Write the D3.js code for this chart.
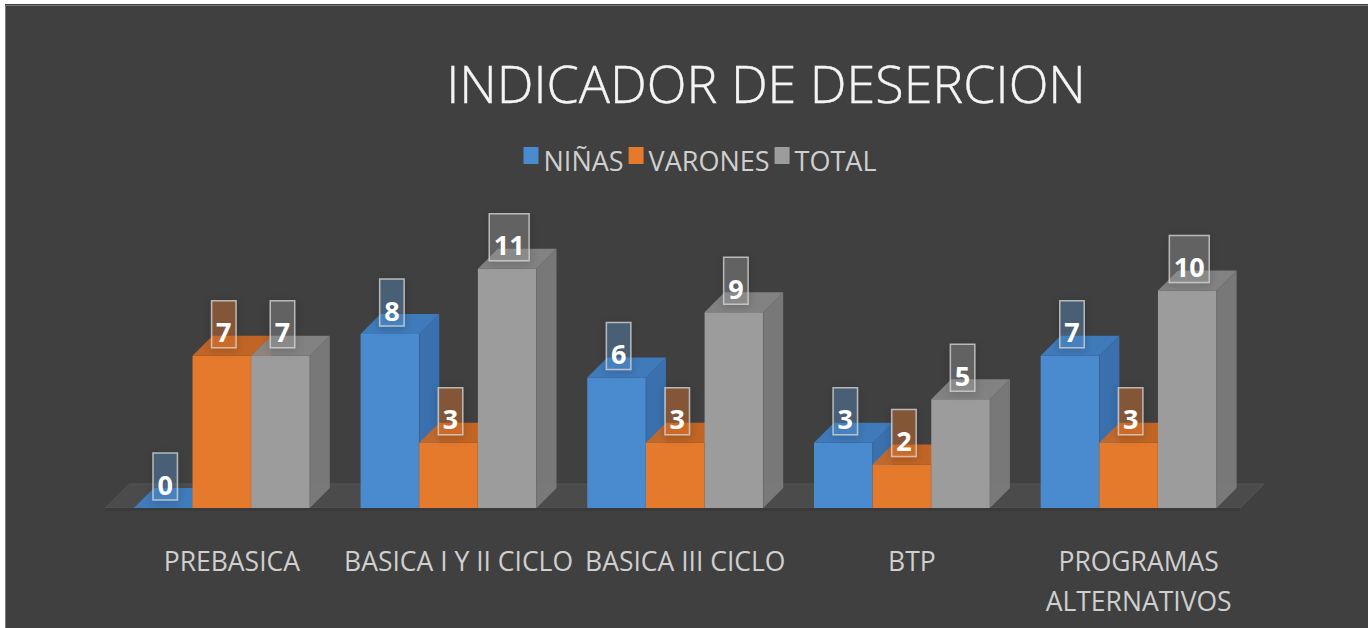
<!DOCTYPE html>
<html>
<head>
<meta charset="utf-8">
<script src="https://cdn.jsdelivr.net/npm/d3@7"></script>
<style>
  html, body { margin: 0; padding: 0; background: #ffffff; }
  svg { display: block; }
</style>
</head>
<body>
<svg id="chart" width="1371" height="628"></svg>
<script>
// ---------- data ----------
const title = "INDICADOR DE DESERCION";
const categories = ["PREBASICA", "BASICA I Y II CICLO", "BASICA III CICLO", "BTP", "PROGRAMAS ALTERNATIVOS"];
const seriesNames = ["NIÑAS", "VARONES", "TOTAL"];
const ninas   = [0, 8, 6, 3, 7];
const varones = [7, 3, 3, 2, 3];
const total   = [7, 11, 9, 5, 10];
const seriesValues = [ninas, varones, total];
const yDomain = [0, 12];

// ---------- styles ----------
const W = 1371, H = 628;
const bg = "#404040";
const seriesFront = ["#4a8bd0", "#e5792c", "#9c9c9c"];
const seriesSide  = ["#3a73b4", "#bf5f1e", "#7b7b7b"];
const seriesTop   = ["#3f7fc4", "#cc6823", "#888888"];
const seriesLabelFill = ["rgba(91,155,213,0.33)", "rgba(237,125,49,0.36)", "rgba(165,165,165,0.33)"];
const textColor = "#cfcfcf";
const depthX = 20, depthY = -20;
const fontFam = "'Open Sans', 'Noto Sans', sans-serif";
const catFont = 26.5;

const svg = d3.select("#chart");

// background
svg.append("rect").attr("x", 5).attr("y", 4).attr("width", 1363).attr("height", H - 4).attr("fill", bg);
svg.append("line").attr("x1", 5).attr("x2", 1368).attr("y1", 5.5).attr("y2", 5.5).attr("stroke", "#7a7a7a").attr("stroke-width", 1);
svg.append("line").attr("x1", 5.5).attr("x2", 5.5).attr("y1", 5).attr("y2", H).attr("stroke", "#7a7a7a").attr("stroke-width", 1);

const defs = svg.append("defs");
const f = defs.append("filter").attr("id", "shadow").attr("x", "-50%").attr("y", "-50%").attr("width", "200%").attr("height", "200%");
f.append("feDropShadow").attr("dx", 0).attr("dy", 2).attr("stdDeviation", 4).attr("flood-color", "#000").attr("flood-opacity", 0.35);

// ---------- scales ----------
const x = d3.scaleBand().domain(categories).range([108.5, 1242]).paddingInner(0.224).paddingOuter(0.112);
const xs = d3.scaleBand().domain(seriesNames).range([0, x.bandwidth()]).padding(0);
const y = d3.scaleLinear().domain(yDomain).range([508, 247]);
const base = y(0);

// ---------- floor ----------
const fx0 = x.range()[0] - 3, fx1 = x.range()[1] - 2;
const floorD = 24;
svg.append("path")
  .attr("d", `M${fx0},${base} L${fx1},${base} L${fx1 + floorD},${base - floorD} L${fx0 + floorD},${base - floorD} Z`)
  .attr("fill", "#4b4b4b").attr("stroke", "#555").attr("stroke-width", 1);
svg.append("path")
  .attr("d", `M${fx0},${base} L${fx1},${base} L${fx1},${base + 3} L${fx0},${base + 3} Z`)
  .attr("fill", "#3a3a3a");

// ---------- bars ----------
const gBars = svg.append("g");
categories.forEach((cat, ci) => {
  seriesNames.forEach((s, si) => {
    const v = seriesValues[si][ci];
    const x0 = x(cat) + xs(s), x1 = x0 + xs.bandwidth();
    const yt = y(v);
    const g = gBars.append("g");
    g.append("path")
      .attr("d", `M${x1},${yt} L${x1 + depthX},${yt + depthY} L${x1 + depthX},${base + depthY} L${x1},${base} Z`)
      .attr("fill", seriesSide[si]).attr("opacity", 0.95);
    g.append("rect").attr("x", x0).attr("y", yt).attr("width", x1 - x0).attr("height", base - yt)
      .attr("fill", seriesFront[si]);
    g.append("path")
      .attr("d", `M${x0},${yt} L${x1},${yt} L${x1 + depthX},${yt + depthY} L${x0 + depthX},${yt + depthY} Z`)
      .attr("fill", seriesTop[si]).attr("opacity", 0.92);
    g.append("path")
      .attr("d", `M${x1},${yt} L${x1},${base}`)
      .attr("stroke", "rgba(0,0,0,0.12)").attr("stroke-width", 1);
  });
});

// ---------- data labels ----------
const gLab = svg.append("g");
categories.forEach((cat, ci) => {
  seriesNames.forEach((s, si) => {
    const v = seriesValues[si][ci];
    const cx = x(cat) + xs(s) + xs.bandwidth() / 2 + 2;
    const bottom = y(v) - 8;
    const t = gLab.append("text").text(v)
      .attr("font-family", fontFam).attr("font-weight", 700).attr("font-size", 27)
      .attr("fill", "#ffffff").attr("text-anchor", "middle")
      .attr("x", cx).attr("y", bottom - 5.5);
    const tw = t.node().getComputedTextLength();
    const bw = tw + 9, bh = 47;
    gLab.insert("rect", () => t.node())
      .attr("x", cx - bw / 2).attr("y", bottom - bh).attr("width", bw).attr("height", bh)
      .attr("fill", seriesLabelFill[si]).attr("stroke", "rgba(210,210,210,0.8)").attr("stroke-width", 1.5)
      .attr("filter", "url(#shadow)");
  });
});

// ---------- category labels ----------
const gCat = svg.append("g");
categories.forEach(cat => {
  const cx = x(cat) + x.bandwidth() / 2 + 10;
  const probe = gCat.append("text").text(cat)
    .attr("font-family", fontFam).attr("font-size", catFont);
  const w = probe.node().getComputedTextLength();
  probe.remove();
  let lines = [cat];
  if (w > x.step() * 1.15) {
    const words = cat.split(" ");
    lines = [words.slice(0, Math.ceil(words.length / 2)).join(" "), words.slice(Math.ceil(words.length / 2)).join(" ")];
  }
  lines.forEach((ln, i) => {
    gCat.append("text").text(ln)
      .attr("font-family", fontFam).attr("font-size", catFont)
      .attr("fill", textColor).attr("text-anchor", "middle")
      .attr("x", cx).attr("y", 571 + i * 40);
  });
});

// ---------- title ----------
svg.append("text").text(title)
  .attr("font-family", fontFam).attr("font-weight", 300).attr("font-size", 52)
  .attr("fill", "#f4f4f4").attr("stroke", "#f4f4f4").attr("stroke-width", 0.4)
  .attr("text-anchor", "middle")
  .attr("x", 766).attr("y", 103);

// ---------- legend ----------
const gLeg = svg.append("g");
let lx = 0;
seriesNames.forEach((s, si) => {
  const it = gLeg.append("g").attr("transform", `translate(${lx},0)`);
  it.append("rect").attr("x", 0).attr("y", 147).attr("width", 15).attr("height", 17).attr("fill", seriesFront[si]);
  const t = it.append("text").text(s)
    .attr("font-family", fontFam).attr("font-size", catFont + 0.5)
    .attr("fill", textColor).attr("x", 20).attr("y", 171);
  lx += 20 + t.node().getComputedTextLength() + 5;
});
const legW = lx - 5;
gLeg.attr("transform", `translate(${700 - legW / 2},0)`);
</script>
</body>
</html>
